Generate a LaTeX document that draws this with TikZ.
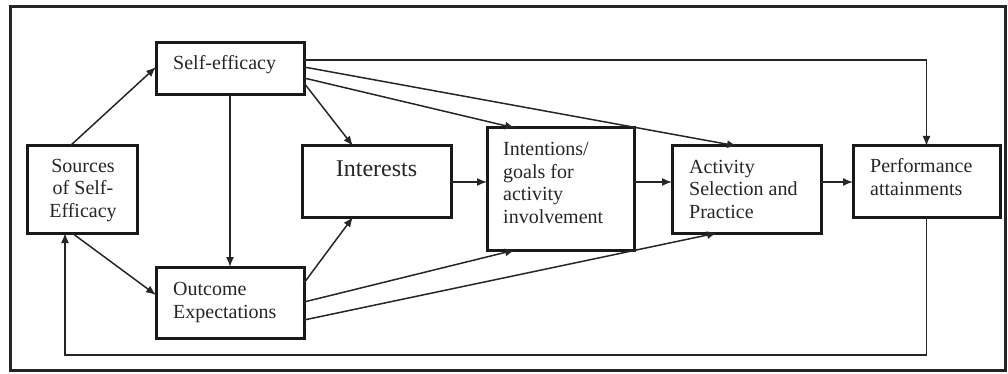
\documentclass[tikz,border=0pt]{standalone}
\usepackage{fontspec}
\setmainfont{Liberation Serif}
\usetikzlibrary{arrows.meta,calc}
\tikzset{
  box/.style={draw=black!90, line width=3pt, minimum width=#1, anchor=north west, inner sep=0pt, outer sep=0pt},
  lbl/.style={inner sep=0pt, font=\fontsize{20}{22.5}\selectfont, text=black!85},
  conn/.style={draw=black!85, line width=1.5pt, -{Latex[length=10pt,width=8pt]}},
  frame/.style={draw=black!85, line width=3pt}
}
\begin{document}
\begin{tikzpicture}[x=1pt,y=-1pt]
\useasboundingbox (0,0) rectangle (1008,374);
\draw[frame] (10,7) rectangle (1005,370);
% boxes
\node[box=110pt, minimum height=87pt] (src) at (27,146) {};
\node[box=148pt, minimum height=52pt] (se) at (156,43) {};
\node[box=148pt, minimum height=71pt] (oe) at (156,267) {};
\node[box=149pt, minimum height=71pt] (int) at (302,146) {};
\node[box=147pt, minimum height=122pt] (ig) at (487,128) {};
\node[box=149pt, minimum height=87pt] (as) at (672,146) {};
\node[box=147pt, minimum height=71pt] (pa) at (853,146) {};
% texts (anchor = baseline of the last line)
\node[lbl, anchor=base, align=center] (srct) at (83,217) {Sources\\of Self-\\Efficacy};
\node[lbl, anchor=base west] (set) at (173,70) {Self-efficacy};
\node[lbl, anchor=base west, align=left] (oet) at (173,318) {Outcome\\Expectations};
\node[lbl, anchor=base, font=\fontsize{24}{28}\selectfont] (intt) at (376.5,177) {Interests};
\node[lbl, anchor=base west, align=left] (igt) at (503,223) {Intentions/\\goals for\\activity\\involvement};
\node[lbl, anchor=base west, align=left] (ast) at (689,218) {Activity\\Selection and\\Practice};
\node[lbl, anchor=base west, align=left] (pat) at (870,195) {Performance\\attainments};
% connectors
\draw[conn] ($(src.north west)+(43,0)$) -- ($(se.north west)+(0,24)$);
\draw[conn] ($(src.south west)+(45,0)$) -- ($(oe.north west)+(0,28)$);
\draw[conn] (se.south) -- (oe.north);
\draw[conn] ($(se.north east)+(0,17)$) -| (pa.north);
\draw[conn] ($(se.north east)+(0,24)$) -- ($(as.north west)+(65,0)$);
\draw[conn] ($(se.north east)+(0,35)$) -- ($(ig.north west)+(28,0)$);
\draw[conn] ($(se.north east)+(0,40)$) -- ($(int.north west)+(51,0)$);
\draw[conn] ($(oe.north east)+(0,16)$) -- ($(int.south west)+(51,0)$);
\draw[conn] ($(oe.north east)+(0,35)$) -- ($(ig.south west)+(28,0)$);
\draw[conn] ($(oe.north east)+(0,53)$) -- ($(as.south west)+(45,0)$);
\draw[conn] ($(int.north east)+(0,36)$) -- ($(ig.north west)+(0,54)$);
\draw[conn] ($(ig.north east)+(0,54)$) -- ($(as.north west)+(0,36)$);
\draw[conn] ($(as.north east)+(0,36)$) -- ($(pa.north west)+(0,36)$);
\coordinate (fb) at (65,355);
\draw[conn] (pa.south) |- (fb) -- ($(src.south west)+(38,0)$);
\end{tikzpicture}
\end{document}
